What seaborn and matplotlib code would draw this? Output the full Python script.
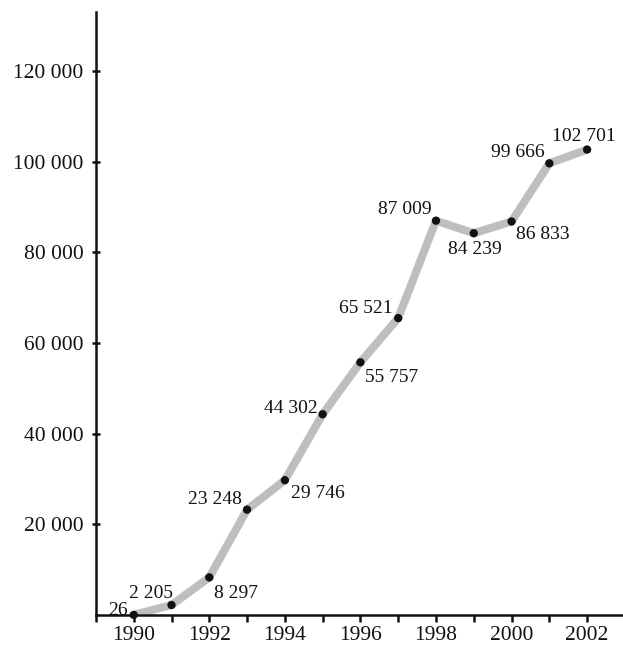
import matplotlib
matplotlib.use("Agg")
import matplotlib.pyplot as plt
from matplotlib.ticker import MultipleLocator, FuncFormatter
import seaborn as sns
import pandas as pd

years = [1990, 1991, 1992, 1993, 1994, 1995, 1996,
         1997, 1998, 1999, 2000, 2001, 2002]
values = [26, 2205, 8297, 23248, 29746, 44302, 55757,
          65521, 87009, 84239, 86833, 99666, 102701]
labels = ["26", "2 205", "8 297", "23 248", "29 746", "44 302", "55 757",
          "65 521", "87 009", "84 239", "86 833", "99 666", "102 701"]

# label placement: pixels from the point to the text baseline, alignment
offsets = [(-6, 0, "right"), (1, 7, "right"), (5, -21, "left"),
           (-5, 6, "right"), (6, -18, "left"), (-5, 1, "right"),
           (5, -20, "left"), (-6, 5, "right"), (-4, 7, "right"),
           (1, -21, "center"), (4, -18, "left"), (-5, 6, "right"),
           (-3, 9, "center")]

sns.set_style("ticks")
plt.rcParams["font.family"] = ["Liberation Serif", "DejaVu Serif"]

df = pd.DataFrame({"year": years, "value": values})

fig = plt.figure(figsize=(6.23, 6.45), dpi=100)
ax = fig.add_axes([0.154, 0.0465, 0.846, 0.9345])

sns.lineplot(data=df, x="year", y="value", color="#bebebe",
             linewidth=5.8, solid_capstyle="butt", ax=ax, zorder=2)
sns.scatterplot(data=df, x="year", y="value", color="#111111",
                s=36, edgecolor="none", ax=ax, zorder=3, clip_on=False)

for x, y, lab, (dx, dy, ha) in zip(years, values, labels, offsets):
    ax.annotate(lab, (x, y), xytext=(dx, dy), textcoords="offset pixels",
                ha=ha, va="baseline", fontsize=14, color="#111111")

ax.set_xlim(1989.0, 2002.95)
ax.set_ylim(0, 133000)
ax.xaxis.set_major_locator(MultipleLocator(2))
ax.xaxis.set_minor_locator(MultipleLocator(1))
ax.set_yticks([20000, 40000, 60000, 80000, 100000, 120000])
ax.yaxis.set_major_formatter(FuncFormatter(lambda v, p: f"{int(v):,}".replace(",", " ")))

ax.set_xlabel("")
ax.set_ylabel("")
for side in ["top", "right"]:
    ax.spines[side].set_visible(False)
for side in ["left", "bottom"]:
    ax.spines[side].set_linewidth(1.8)
    ax.spines[side].set_color("#111111")

ax.tick_params(axis="y", direction="inout", length=6, width=1.8,
               labelsize=15.5, colors="#111111", pad=6)
ax.tick_params(axis="x", which="both", direction="out", length=5, width=1.8,
               labelsize=15.5, colors="#111111", pad=3)

fig.savefig("out.png", dpi=100)
